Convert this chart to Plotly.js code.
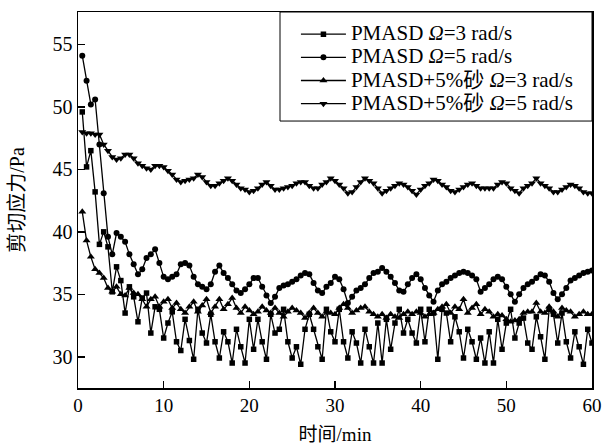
<!DOCTYPE html>
<html>
<head>
<meta charset="utf-8">
<script src="https://cdn.plot.ly/plotly-3.0.1.min.js"></script>
<style>html,body{margin:0;padding:0;background:#fff;}#chart{width:602px;height:446px;}</style>
</head>
<body>
<div id="chart"></div>
<script>
const time = [0.5,1,1.5,2,2.5,3,3.5,4,4.5,5,5.5,6,6.5,7,7.5,8,8.5,9,9.5,10,
10.5,11,11.5,12,12.5,13,13.5,14,14.5,15,15.5,16,16.5,17,17.5,18,18.5,19,19.5,20,
20.5,21,21.5,22,22.5,23,23.5,24,24.5,25,25.5,26,26.5,27,27.5,28,28.5,29,29.5,30,
30.5,31,31.5,32,32.5,33,33.5,34,34.5,35,35.5,36,36.5,37,37.5,38,38.5,39,39.5,40,
40.5,41,41.5,42,42.5,43,43.5,44,44.5,45,45.5,46,46.5,47,47.5,48,48.5,49,49.5,50,
50.5,51,51.5,52,52.5,53,53.5,54,54.5,55,55.5,56,56.5,57,57.5,58,58.5,59,59.5,60];

const pmasd3 = [49.6,45.2,46.5,43.2,39.0,40.0,38.8,35.2,37.2,36.1,33.5,35.6,34.8,32.8,34.7,35.1,31.9,34.0,33.8,31.5,
32.7,33.6,31.2,30.5,33.0,31.3,29.8,33.8,31.9,31.1,33.4,31.2,29.9,32.0,31.2,29.5,32.2,30.8,29.5,33.0,
30.6,33.0,31.2,29.8,33.4,31.9,32.2,33.8,31.2,29.9,30.8,29.4,32.2,33.4,32.2,30.8,29.8,33.8,32.0,31.2,
33.8,31.2,29.9,32.0,31.1,29.5,32.2,30.8,29.5,32.7,29.5,33.0,30.6,32.7,33.8,31.9,33.0,31.9,31.1,33.8,
31.2,33.8,33.5,29.8,33.8,33.5,31.2,33.2,32.0,29.9,32.2,31.2,29.8,31.5,29.5,32.0,29.5,33.0,30.6,32.7,
33.8,31.5,32.7,33.1,31.1,30.6,33.2,31.6,29.8,33.8,33.4,31.1,33.5,31.2,29.9,32.0,30.8,29.4,32.2,31.1];

const pmasd5 = [54.1,52.1,50.2,50.6,47.0,43.1,39.6,38.2,39.9,39.6,39.2,38.2,37.4,36.6,37.0,37.9,38.2,38.6,37.5,36.4,
36.2,36.4,36.6,37.4,37.5,37.3,36.4,35.8,35.6,35.4,35.8,36.8,37.3,36.7,36.3,35.8,35.3,35.1,35.4,35.8,
36.3,36.3,35.6,34.9,34.3,34.8,35.5,35.7,35.8,36.0,36.2,36.5,36.7,36.6,35.9,35.3,35.1,35.6,35.9,36.4,
36.2,35.4,34.3,34.8,35.3,35.5,35.8,36.3,36.7,36.8,37.1,36.8,36.4,35.9,35.3,35.2,35.8,36.3,36.6,36.2,
35.5,34.9,34.4,35.3,35.8,36.0,36.3,36.5,36.7,36.8,36.7,36.5,36.2,35.2,35.5,35.8,36.2,36.4,36.2,35.6,
35.0,34.4,35.0,35.5,35.8,36.0,36.3,36.6,36.5,36.0,35.1,34.6,35.0,35.5,36.1,36.3,36.5,36.7,36.8,36.9];

const sand3 = [41.6,39.3,38.0,37.0,36.7,36.3,35.5,35.2,35.6,35.0,34.9,35.5,35.1,35.0,34.6,34.0,34.6,34.8,34.0,34.4,
34.6,33.9,34.3,33.8,33.5,34.0,34.4,33.6,34.1,34.6,33.5,34.0,34.6,33.8,34.2,34.7,33.9,33.5,34.0,33.7,
33.4,33.6,34.0,33.7,33.5,33.9,33.5,33.2,33.6,33.9,33.7,33.5,33.1,33.5,33.9,33.5,33.2,33.6,33.5,33.4,
33.9,34.2,33.9,33.5,33.7,33.9,34.0,33.6,33.4,33.2,33.4,33.1,33.4,33.2,33.1,33.4,33.6,33.4,33.6,33.5,
33.2,33.4,33.5,33.8,34.0,34.2,33.5,34.0,33.8,34.6,33.5,33.9,34.2,33.4,33.8,33.6,33.2,33.4,33.3,33.0,
32.8,32.9,33.0,33.5,33.6,33.6,34.3,33.6,33.5,34.0,33.6,33.2,33.9,33.7,33.6,33.2,33.4,33.6,33.4,33.4];

const sand5 = [48.0,47.9,47.9,47.8,47.8,47.0,46.5,46.0,45.8,45.9,46.2,46.2,45.9,45.5,45.3,45.1,45.0,45.3,45.3,45.2,
44.9,44.6,44.2,44.0,44.1,44.2,44.3,44.6,44.4,44.0,43.7,43.7,43.9,44.1,44.3,44.1,43.8,43.5,43.4,43.2,
43.3,43.5,43.8,44.0,43.7,43.4,43.4,43.5,43.6,43.7,43.9,44.0,44.0,43.7,43.5,43.5,43.8,44.0,44.3,44.1,
43.8,43.5,43.1,43.2,43.6,44.0,44.3,44.1,43.9,43.5,43.1,43.3,43.5,43.7,43.9,43.8,43.6,43.3,43.0,43.4,
43.7,43.9,44.2,44.1,43.8,43.6,43.3,43.2,43.4,43.6,43.8,43.9,43.7,43.5,43.5,43.5,43.5,43.8,44.0,43.9,
43.5,43.3,43.1,43.5,43.7,43.9,44.3,43.9,43.7,43.5,43.2,43.2,43.4,43.6,43.8,43.7,43.5,43.2,43.1,43.1];

const seriesNames = [
  'PMASD <i>Ω</i>=3 rad/s',
  'PMASD <i>Ω</i>=5 rad/s',
  'PMASD+5%砂 <i>Ω</i>=3 rad/s',
  'PMASD+5%砂 <i>Ω</i>=5 rad/s'
];
const seriesValues = [pmasd3, pmasd5, sand3, sand5];
const symbols = ['square', 'circle', 'triangle-up', 'triangle-down'];
const sizes = [5.5, 6, 7, 7];

const FONT = 'Liberation Serif, Noto Sans CJK SC, serif';

const traces = seriesValues.map((v, i) => ({
  x: time,
  y: v,
  name: '<span style="font-size:21px">' + seriesNames[i] + '</span>',
  type: 'scatter',
  mode: 'lines+markers',
  line: {color: '#000', width: 1.3},
  marker: {symbol: symbols[i], size: sizes[i], color: '#000'}
}));

const layout = {
  width: 602,
  height: 446,
  margin: {l: 78, r: 10, t: 12, b: 58},
  paper_bgcolor: '#fff',
  plot_bgcolor: '#fff',
  font: {family: FONT, color: '#000', size: 20},
  showlegend: true,
  legend: {
    x: 0.424, y: 0.985, xanchor: 'left', yanchor: 'top',
    bgcolor: 'rgba(255,255,255,0)',
    borderwidth: 0,
    itemwidth: 45,
    font: {family: FONT, size: 15.5, color: '#000'},
    tracegroupgap: 0
  },
  shapes: [{
    type: 'rect', xref: 'paper', yref: 'paper',
    x0: 0.393, x1: 1, y0: 0.71, y1: 1,
    line: {color: '#000', width: 1}
  }],
  xaxis: {
    range: [0, 60],
    tickvals: [0, 10, 20, 30, 40, 50, 60],
    ticks: 'inside', ticklen: 7, tickwidth: 1.5, tickcolor: '#000',
    showline: true, linecolor: '#000', linewidth: 1.5, mirror: true,
    showgrid: false, zeroline: false,
    ticklabeloverflow: 'allow',
    tickfont: {family: FONT, size: 19, color: '#000'},
    title: {text: '时间/min', font: {family: FONT, size: 19, color: '#000'}, standoff: 12}
  },
  yaxis: {
    range: [27.5, 57.6],
    tickvals: [30, 35, 40, 45, 50, 55],
    ticks: 'inside', ticklen: 7, tickwidth: 1.5, tickcolor: '#000',
    showline: true, linecolor: '#000', linewidth: 1.5, mirror: true,
    showgrid: false, zeroline: false,
    ticklabeloverflow: 'allow',
    tickfont: {family: FONT, size: 20, color: '#000'},
    title: {text: '剪切应力/Pa', font: {family: FONT, size: 20, color: '#000'}, standoff: 22}
  }
};

Plotly.newPlot('chart', traces, layout, {displayModeBar: false, staticPlot: true});
</script>
</body>
</html>
